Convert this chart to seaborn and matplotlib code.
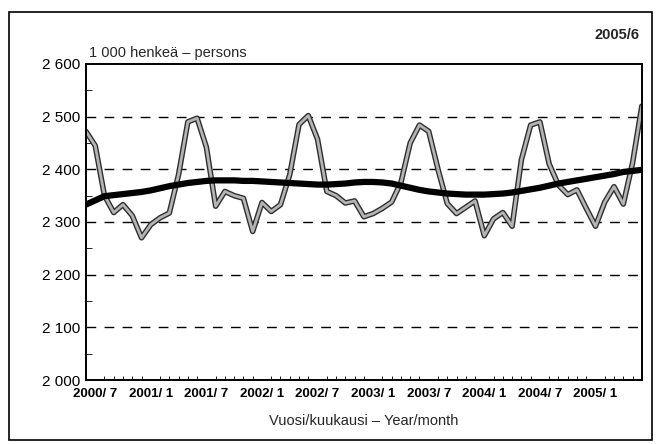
import pandas as pd
import matplotlib.pyplot as plt
import matplotlib.patheffects as pe
from matplotlib.patches import Rectangle
from matplotlib.ticker import MultipleLocator, FuncFormatter
import seaborn as sns

# Työlliset 2000/6 - 2005/6, 1 000 henkeä
originaali = [2472, 2445, 2350, 2318, 2333, 2312, 2270, 2295, 2308, 2317,
              2390, 2490, 2497, 2442, 2330, 2358, 2350, 2345, 2282, 2337,
              2320, 2333, 2390, 2485, 2502, 2457, 2358, 2350, 2336, 2340,
              2310, 2316, 2326, 2338, 2375, 2450, 2484, 2472, 2400, 2335,
              2316, 2328, 2340, 2274, 2306, 2318, 2292, 2418, 2484, 2490,
              2410, 2370, 2352, 2361, 2326, 2292, 2338, 2367, 2334, 2412,
              2520]
trendi = [2333, 2341, 2349, 2351, 2353, 2355, 2357, 2360, 2364, 2368,
          2371, 2374, 2376, 2378, 2379, 2379, 2379, 2378, 2378, 2377,
          2376, 2375, 2374, 2373, 2372, 2371, 2371, 2372, 2373, 2375,
          2376, 2376, 2375, 2373, 2369, 2365, 2361, 2358, 2356, 2354,
          2353, 2352, 2352, 2352, 2353, 2354, 2356, 2359, 2362, 2365,
          2369, 2373, 2376, 2379, 2382, 2385, 2388, 2391, 2395, 2397,
          2399]
tick_pos = [1, 7, 13, 19, 25, 31, 37, 43, 49, 55]
tick_labels = ["2000/ 7", "2001/ 1", "2001/ 7", "2002/ 1", "2002/ 7",
               "2003/ 1", "2003/ 7", "2004/ 1", "2004/ 7", "2005/ 1"]

sns.set_style("white")
plt.rcParams['font.family'] = ['Liberation Sans', 'DejaVu Sans']

df = pd.DataFrame({'kk': range(len(originaali)), 'orig': originaali, 'trend': trendi})

fig = plt.figure(figsize=(6.61, 4.44), dpi=100)
ax = fig.add_axes([0.130, 0.144, 0.841, 0.712])

sns.lineplot(data=df, x='kk', y='orig', ax=ax, color='#b4b4b4', linewidth=2.0,
             path_effects=[pe.Stroke(linewidth=4.0, foreground='#2e2e2e'), pe.Normal()])
sns.lineplot(data=df, x='kk', y='trend', ax=ax, color='black', linewidth=4.5,
             solid_capstyle='butt')

ax.set_xlim(0, len(originaali) - 1)
ax.set_ylim(2000, 2600)
for yv in [2100, 2200, 2300, 2400, 2500]:
    ax.axhline(yv, color='black', linewidth=1.0, linestyle=(0, (7, 6)), zorder=0)

ax.yaxis.set_major_locator(MultipleLocator(100))
ax.yaxis.set_minor_locator(MultipleLocator(50))
ax.yaxis.set_major_formatter(FuncFormatter(lambda v, p: f"{int(v):,}".replace(",", " ")))
ax.set_xticks(tick_pos)
ax.set_xticklabels(tick_labels, fontweight='bold')
ax.xaxis.set_minor_locator(MultipleLocator(1))
ax.tick_params(axis='both', which='both', direction='in', colors='black')
ax.tick_params(axis='y', which='major', length=4, labelsize=11, pad=4)
ax.tick_params(axis='y', which='minor', length=4, left=True)
ax.tick_params(axis='x', which='major', length=5, labelsize=9.5, pad=6)
ax.tick_params(axis='x', which='minor', length=3, bottom=True)
for s in ax.spines.values():
    s.set_color('black')
    s.set_linewidth(1.4)

ax.set_xlabel("Vuosi/kuukausi – Year/month", fontsize=10.5, labelpad=10)
ax.set_ylabel("")
ax.text(0.005, 1.012, "1 000 henkeä – persons", transform=ax.transAxes,
        fontsize=10.5, ha='left', va='bottom')
fig.text(0.968, 0.905, "2005/6", fontsize=10.5, fontweight='bold', ha='right', va='bottom')

fig.patches.append(Rectangle((0.013, 0.01), 0.973, 0.962, transform=fig.transFigure,
                             fill=False, edgecolor='black', linewidth=1.2))

fig.savefig("out.png", dpi=100)
